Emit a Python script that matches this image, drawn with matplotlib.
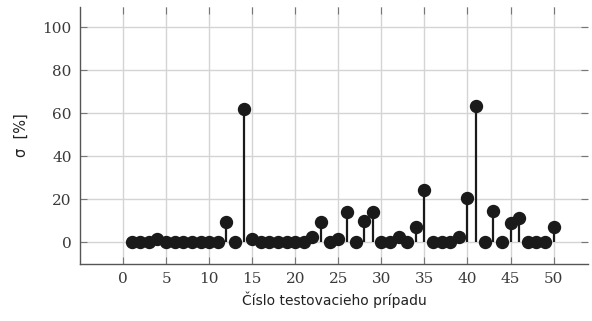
import matplotlib
matplotlib.use("Agg")
import matplotlib.pyplot as plt
import numpy as np

cases = list(range(1, 51))
sigma = [0, 0, 0, 1.5, 0, 0, 0, 0, 0, 0,
         0, 9.3, 0, 62, 1.4, 0, 0, 0, 0, 0,
         0, 2.6, 9.3, 0, 1.4, 14, 0, 10, 14, 0,
         0, 2.6, 0, 7, 24.6, 0, 0, 0, 2.6, 20.8,
         63.4, 0, 14.7, 0, 9.1, 11.2, 0, 0, 0, 7]
xticks = [0, 5, 10, 15, 20, 25, 30, 35, 40, 45, 50]
yticks = [0, 20, 40, 60, 80, 100]

fig = plt.figure(figsize=(5.92, 3.21), dpi=100)
ax = fig.add_axes([80/592, 1 - 264/321, (588-80)/592, (264-7)/321])

ml, sl, bl = ax.stem(cases, sigma, basefmt=" ")
plt.setp(sl, color="#1a1a1a", linewidth=1.6)
plt.setp(ml, color="#1a1a1a", markersize=8.6, markeredgecolor="#1a1a1a")

ax.set_xlim(-5, 54)
ax.set_ylim(-10, 109.5)
ax.set_xticks(xticks)
ax.set_yticks(yticks)
ax.grid(True, color="#d4d4d4", linewidth=1.0)
ax.set_axisbelow(True)
for s in ["top", "right"]:
    ax.spines[s].set_visible(False)
for s in ["left", "bottom"]:
    ax.spines[s].set_color("#555555")
    ax.spines[s].set_linewidth(1.0)
ax.tick_params(direction="in", length=5, color="#777777", top=True, right=True,
               labelsize=11, labelcolor="#3a3a3a", pad=6)
for lab in ax.get_xticklabels() + ax.get_yticklabels():
    lab.set_family("DejaVu Serif")

ax.set_xlabel("Číslo testovacieho prípadu", fontsize=10, color="#222222", labelpad=4)
ax.set_ylabel("σ  [%]", fontsize=10.5, color="#222222", labelpad=10)

fig.savefig("out.png", dpi=100)
